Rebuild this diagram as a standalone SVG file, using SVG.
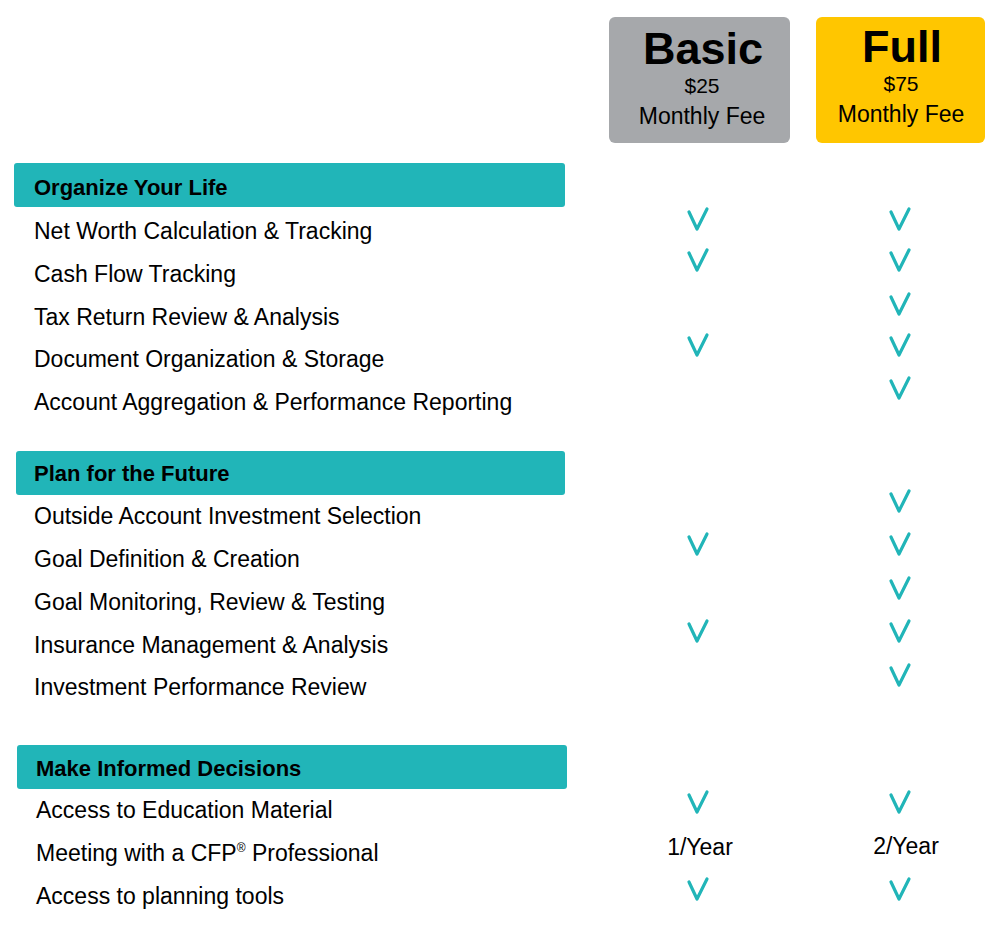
<svg xmlns="http://www.w3.org/2000/svg" width="1000" height="946" viewBox="0 0 1000 946">
<style>
text{font-family:"Liberation Sans",Arial,sans-serif;fill:#000}
.b{font-size:23px}
.h{font-size:22px;font-weight:bold}
.t{font-size:45px;font-weight:bold;text-anchor:middle}
.p{font-size:21px;text-anchor:middle}
.m{font-size:23px;text-anchor:middle}
.ban{fill:#21b5b8}
.ck{fill:none;stroke:#21b5b8;stroke-width:3.2;stroke-linecap:round;stroke-linejoin:round}
</style>
<defs><path id="c" class="ck" d="M-9,-8 L-1,9 L9,-11"/></defs>
<rect width="1000" height="946" fill="#fff"/>
<g id="basic"><rect x="609" y="17" width="181" height="126" rx="6" fill="#a6a8ab"/>
<text class="t" x="703" y="64">Basic</text><text class="p" x="702" y="93">$25</text><text class="m" x="702" y="124">Monthly Fee</text></g>
<g id="full"><rect x="816" y="17" width="169" height="126" rx="6" fill="#ffc600"/>
<text class="t" x="902" y="62">Full</text><text class="p" x="901" y="91">$75</text><text class="m" x="901" y="122">Monthly Fee</text></g>
<g id="sec1"><rect class="ban" x="14" y="163" width="551" height="44" rx="3"/><text class="h" x="34" y="195">Organize Your Life</text>
<text class="b" x="34" y="239">Net Worth Calculation &amp; Tracking</text>
<text class="b" x="34" y="282">Cash Flow Tracking</text>
<text class="b" x="34" y="325">Tax Return Review &amp; Analysis</text>
<text class="b" x="34" y="367">Document Organization &amp; Storage</text>
<text class="b" x="34" y="410">Account Aggregation &amp; Performance Reporting</text></g>
<g id="sec2"><rect class="ban" x="16" y="451" width="549" height="44" rx="3"/><text class="h" x="34" y="481">Plan for the Future</text>
<text class="b" x="34" y="524">Outside Account Investment Selection</text>
<text class="b" x="34" y="567">Goal Definition &amp; Creation</text>
<text class="b" x="34" y="610">Goal Monitoring, Review &amp; Testing</text>
<text class="b" x="34" y="653">Insurance Management &amp; Analysis</text>
<text class="b" x="34" y="695">Investment Performance Review</text></g>
<g id="sec3"><rect class="ban" x="17" y="745" width="550" height="44" rx="3"/><text class="h" x="36" y="776">Make Informed Decisions</text>
<text class="b" x="36" y="818">Access to Education Material</text>
<text class="b" x="36" y="861">Meeting with a CFP<tspan font-size="12" dy="-9">®</tspan><tspan dy="9"> Professional</tspan></text>
<text class="b" x="36" y="904">Access to planning tools</text>
<text class="m" x="700" y="855">1/Year</text><text class="m" x="906" y="854">2/Year</text></g>
<g id="checks">
<use href="#c" x="698" y="220"/><use href="#c" x="900" y="220"/>
<use href="#c" x="698" y="261"/><use href="#c" x="900" y="261"/>
<use href="#c" x="900" y="305"/>
<use href="#c" x="698" y="346"/><use href="#c" x="900" y="346"/>
<use href="#c" x="900" y="389"/>
<use href="#c" x="900" y="502"/>
<use href="#c" x="698" y="545"/><use href="#c" x="900" y="545"/>
<use href="#c" x="900" y="589"/>
<use href="#c" x="698" y="632"/><use href="#c" x="900" y="632"/>
<use href="#c" x="900" y="676"/>
<use href="#c" x="698" y="803"/><use href="#c" x="900" y="803"/>
<use href="#c" x="698" y="890"/><use href="#c" x="900" y="890"/>
</g>
</svg>
